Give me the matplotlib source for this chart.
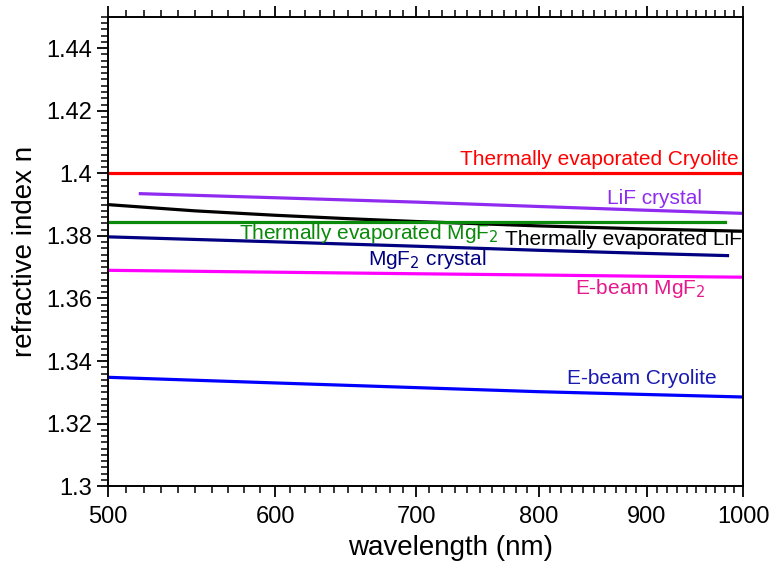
import numpy as np
import matplotlib
matplotlib.use("Agg")
import matplotlib.pyplot as plt
from matplotlib.ticker import FixedLocator, FixedFormatter, MultipleLocator, NullFormatter

plt.rcParams["font.family"] = ["Liberation Sans", "DejaVu Sans"]

# curves (wavelength in nm, refractive index)
wl_cryo_th = [500, 1000]
n_cryo_th = [1.400, 1.400]

wl_lif_cr = [518, 600, 700, 800, 900, 1000]
n_lif_cr = [1.3935, 1.3922, 1.3908, 1.3894, 1.3882, 1.3872]

wl_lif_th = [500, 550, 600, 650, 700, 800, 900, 1000]
n_lif_th = [1.3900, 1.3880, 1.3866, 1.3855, 1.3846, 1.3832, 1.3822, 1.3815]

wl_mgf_th = [500, 980]
n_mgf_th = [1.3845, 1.3845]

wl_mgf_cr = [500, 600, 700, 800, 900, 983]
n_mgf_cr = [1.3797, 1.3781, 1.3767, 1.3754, 1.3744, 1.3737]

wl_mgf_eb = [500, 600, 700, 800, 900, 1000]
n_mgf_eb = [1.3690, 1.3684, 1.3679, 1.3675, 1.3671, 1.3668]

wl_cryo_eb = [500, 600, 700, 800, 900, 1000]
n_cryo_eb = [1.3348, 1.3330, 1.3315, 1.3302, 1.3293, 1.3285]

fig = plt.figure(figsize=(7.71, 5.64), dpi=100)
ax = fig.add_axes([0.140, 0.138, 0.824, 0.832])

lw = 2.3
ax.plot(wl_cryo_th, n_cryo_th, color="#ff0000", lw=lw)
ax.plot(wl_lif_cr, n_lif_cr, color="#8f2bf0", lw=lw)
ax.plot(wl_lif_th, n_lif_th, color="black", lw=lw)
ax.plot(wl_mgf_th, n_mgf_th, color="#0a8a0a", lw=lw)
ax.plot(wl_mgf_cr, n_mgf_cr, color="#000080", lw=lw)
ax.plot(wl_mgf_eb, n_mgf_eb, color="#ff00ff", lw=lw)
ax.plot(wl_cryo_eb, n_cryo_eb, color="#0000ff", lw=lw)

fs = 15
ax.text(995, 1.4015, "Thermally evaporated Cryolite", color="#ff0000", fontsize=fs, ha="right", va="bottom")
ax.text(956, 1.3918, "LiF crystal", color="#8f2bf0", fontsize=fs, ha="right", va="center")
ax.text(577, 1.3808, "Thermally evaporated MgF$_2$", color="#0a8a0a", fontsize=fs, ha="left", va="center")
ax.text(771, 1.3788, "Thermally evaporated LiF", color="black", fontsize=fs, ha="left", va="center")
ax.text(664, 1.3724, "MgF$_2$ crystal", color="#000080", fontsize=fs, ha="left", va="center")
ax.text(894, 1.3632, "E-beam MgF$_2$", color="#e6198c", fontsize=fs, ha="center", va="center")
ax.text(895, 1.3345, "E-beam Cryolite", color="#1a1ab0", fontsize=fs, ha="center", va="center")

ax.set_xscale("log")
ax.set_xlim(500, 1000)
ax.set_ylim(1.3, 1.45)
ax.xaxis.set_major_locator(FixedLocator([500, 600, 700, 800, 900, 1000]))
ax.xaxis.set_minor_locator(FixedLocator(np.arange(510, 1000, 10)))
ax.xaxis.set_major_formatter(FixedFormatter(["500", "600", "700", "800", "900", "1000"]))
ax.xaxis.set_minor_formatter(NullFormatter())
ax.yaxis.set_minor_locator(MultipleLocator(0.002))
ax.set_yticks([1.3, 1.32, 1.34, 1.36, 1.38, 1.4, 1.42, 1.44])
ax.set_yticklabels(["1.3", "1.32", "1.34", "1.36", "1.38", "1.4", "1.42", "1.44"])

ax.tick_params(axis="both", which="major", direction="out", length=8, width=1.3, labelsize=17)
ax.tick_params(axis="both", which="minor", direction="out", length=5, width=1.1)
ax.tick_params(axis="x", which="both", top=True, labelsize=17, pad=6)
for s in ax.spines.values():
    s.set_linewidth(1.4)

ax.set_xlabel("wavelength (nm)", fontsize=20, labelpad=6)
ax.xaxis.set_label_coords(0.54, -0.105)
ax.set_ylabel("refractive index n", fontsize=20, labelpad=6)

fig.savefig("out.png", dpi=100)
